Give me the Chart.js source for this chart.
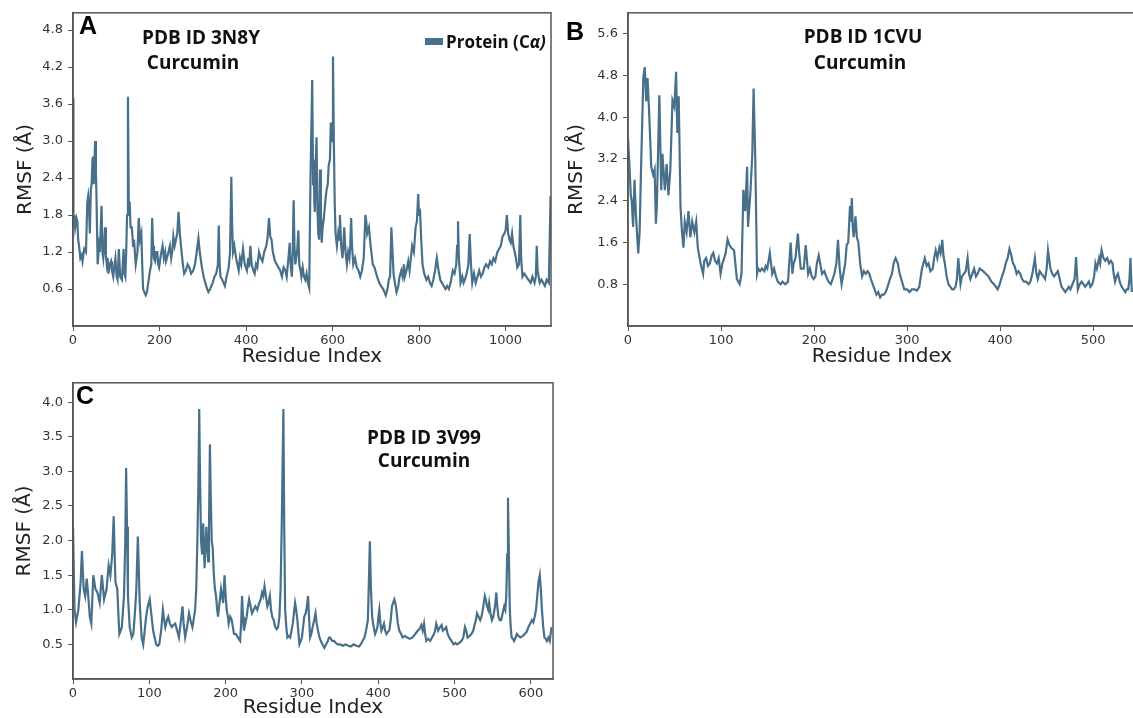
<!DOCTYPE html>
<html>
<head>
<meta charset="utf-8">
<script src="https://cdn.jsdelivr.net/npm/chart.js@4"></script>
<style>
  body { margin: 0; width: 1133px; height: 718px; overflow: hidden; background: #fff; position: relative; }
  canvas { position: absolute; }
  .letra { position: absolute; font-family: "Liberation Sans", Arial, sans-serif; font-weight: bold; font-size: 25px; line-height: 1; color: #000; transform: translateY(-50%); }
  .nota { position: absolute; font-family: "Open Sans", sans-serif; font-weight: 700; font-size: 19px; line-height: 1; color: #111; white-space: nowrap; transform: translate(-50%, -50%); }
  .legenda { position: absolute; left: 425px; top: 30px; font-family: "Open Sans", sans-serif; font-weight: 700; font-size: 17px; color: #111; white-space: nowrap; display: flex; align-items: center; }
  .legenda span.cor { display: inline-block; width: 18px; height: 7px; background: #48708a; margin-right: 3px; }
</style>
</head>
<body>
  <canvas id="painel-a" width="560" height="370" style="left:0;top:0"></canvas>
  <canvas id="painel-b" width="580" height="370" style="left:560px;top:0"></canvas>
  <canvas id="painel-c" width="560" height="350" style="left:0;top:370px"></canvas>

  <div class="letra" style="left:79px;top:25px">A</div>
  <div class="letra" style="left:566px;top:31px">B</div>
  <div class="letra" style="left:76px;top:395px">C</div>

  <div class="nota" style="left:201px;top:37px">PDB ID 3N8Y</div>
  <div class="nota" style="left:193px;top:62px">Curcumin</div>
  <div class="nota" style="left:863px;top:36px">PDB ID 1CVU</div>
  <div class="nota" style="left:860px;top:62px">Curcumin</div>
  <div class="nota" style="left:424px;top:437px">PDB ID 3V99</div>
  <div class="nota" style="left:424px;top:460px">Curcumin</div>

  <div class="legenda"><span class="cor"></span>Protein (C<i>α)</i></div>

<script>
// RMSF por resíduo: [resíduo, RMSF em Å]
const rmsf3N8Y = [
  [0,3.7],[1,1.6],[3,1.8],[5,1.6],[8,1.75],[10,1.7],[12,1.4],[14,1.3],[17,1.1],[20,1.15],[22,1.05],[26,1.25],[30,1.2],[33,2.0],[35,2.1],[37,1.9],[39,1.5],[41,2.2],[43,2.3],[45,2.7],[46,2.75],[48,2.3],[49,2.5],[51,3.0],[53,2.5],[54,2.2],[57,1.0],[60,1.3],[62,1.2],[66,1.95],[68,1.2],[70,1.1],[72,1.3],[74,1.6],[76,1.15],[78,1.0],[80,1.1],[82,0.85],[85,1.0],[88,1.05],[90,0.9],[93,0.8],[96,1.0],[98,1.1],[101,0.8],[103,0.75],[106,1.25],[109,0.8],[113,0.75],[115,1.0],[117,1.25],[119,0.85],[121,0.8],[123,1.2],[125,1.8],[127,3.72],[129,2.0],[131,2.0],[133,1.6],[136,1.6],[139,1.3],[141,1.4],[143,1.2],[145,1.0],[149,1.2],[152,1.75],[155,1.4],[158,1.5],[160,1.0],[162,0.6],[165,0.55],[168,0.5],[171,0.55],[174,0.7],[178,0.9],[181,1.0],[183,1.75],[185,1.3],[187,1.1],[190,1.05],[192,1.2],[195,1.2],[197,1.0],[199,0.95],[203,1.15],[207,1.3],[210,1.1],[213,1.2],[215,1.05],[219,1.15],[224,1.3],[227,1.1],[230,1.25],[232,1.45],[235,1.3],[238,1.4],[241,1.5],[244,1.85],[247,1.5],[251,1.2],[254,1.0],[257,0.85],[261,0.9],[265,1.0],[269,0.95],[273,0.85],[278,0.9],[282,1.0],[286,1.2],[290,1.42],[293,1.2],[298,0.95],[302,0.8],[306,0.7],[310,0.6],[313,0.55],[317,0.6],[323,0.7],[327,0.8],[331,0.85],[335,1.0],[337,1.63],[339,1.0],[341,0.8],[345,0.75],[348,0.7],[351,0.65],[355,0.8],[360,0.95],[363,1.2],[366,2.42],[368,1.6],[370,1.2],[373,1.3],[377,1.1],[380,1.0],[383,0.9],[386,1.1],[389,1.0],[393,1.25],[397,1.0],[402,0.9],[405,1.1],[407,0.95],[410,1.3],[413,1.0],[417,0.9],[420,0.85],[423,1.0],[426,0.95],[430,1.2],[434,1.1],[438,1.05],[442,1.2],[447,1.3],[450,1.45],[453,1.75],[456,1.45],[459,1.4],[462,1.2],[467,1.05],[471,1.0],[475,0.95],[479,0.9],[483,0.8],[487,0.95],[491,0.9],[494,0.8],[498,1.1],[501,1.35],[503,1.0],[506,0.8],[508,1.2],[510,2.04],[512,1.3],[514,1.0],[518,1.2],[521,1.55],[523,1.0],[526,0.9],[528,0.8],[531,0.95],[534,0.8],[537,0.75],[540,0.85],[543,0.7],[546,0.62],[549,2.4],[553,3.99],[555,2.3],[556,2.7],[558,2.0],[559,1.85],[561,2.6],[563,3.06],[565,1.9],[567,1.5],[569,1.4],[571,2.54],[573,1.9],[575,1.35],[577,1.6],[580,1.75],[583,2.0],[586,2.2],[589,2.3],[591,2.6],[594,2.7],[596,3.3],[599,3.0],[601,4.37],[603,3.0],[605,2.0],[607,1.5],[610,1.3],[613,1.5],[615,1.4],[617,1.8],[620,1.3],[623,1.1],[625,1.3],[627,1.6],[630,1.2],[633,1.0],[636,1.2],[639,1.1],[641,1.3],[643,1.75],[645,1.3],[648,1.0],[652,1.1],[656,0.95],[660,0.9],[664,0.8],[668,0.9],[672,1.1],[676,1.8],[678,1.7],[680,1.5],[684,1.6],[688,1.3],[693,1.0],[697,0.95],[703,0.8],[708,0.7],[712,0.65],[717,0.6],[720,0.55],[723,0.5],[727,0.6],[730,0.75],[733,0.8],[736,1.6],[738,1.3],[741,0.85],[744,0.7],[748,0.55],[752,0.65],[755,0.8],[759,0.9],[762,0.8],[765,1.0],[767,0.8],[771,0.9],[775,1.05],[778,0.9],[781,1.1],[784,1.3],[788,1.2],[792,1.6],[795,1.7],[798,2.14],[800,1.8],[802,1.9],[805,1.4],[808,1.0],[812,0.85],[817,0.75],[821,0.8],[825,0.7],[829,0.65],[833,0.75],[837,0.9],[841,1.1],[845,0.9],[849,0.75],[853,0.7],[857,0.65],[861,0.6],[865,0.65],[869,0.6],[873,0.7],[878,0.9],[882,0.85],[886,1.0],[888,1.3],[890,1.7],[892,1.1],[896,0.7],[900,0.8],[903,0.7],[906,0.75],[910,0.85],[914,1.0],[917,1.49],[920,1.0],[923,0.7],[927,0.85],[931,0.7],[935,0.8],[939,0.9],[943,0.8],[947,0.85],[951,0.95],[955,1.0],[960,0.95],[964,1.05],[968,1.0],[972,1.1],[976,1.05],[981,1.2],[985,1.25],[989,1.3],[993,1.45],[997,1.5],[1000,1.55],[1003,1.8],[1006,1.5],[1009,1.4],[1012,1.35],[1015,1.5],[1018,1.3],[1021,1.2],[1024,1.1],[1027,0.95],[1031,1.0],[1034,1.8],[1036,1.1],[1039,0.8],[1043,0.85],[1048,0.8],[1053,0.75],[1058,0.7],[1062,0.8],[1067,0.7],[1070,0.8],[1072,1.3],[1074,0.9],[1079,0.7],[1083,0.75],[1087,0.7],[1091,0.65],[1095,0.75],[1100,0.7],[1104,2.11]
];

const rmsf1CVU = [
  [0,3.6],[1.5,3.1],[3,2.5],[4,2.4],[5.5,1.9],[7,2.8],[8.6,2.1],[11,1.39],[12.5,1.8],[14,3.0],[16.5,4.77],[18,4.96],[19.6,4.3],[21,4.75],[22.7,4.1],[25,3.05],[27,2.9],[28.6,3.0],[30,1.96],[31,2.3],[33.7,4.42],[35.7,2.6],[37,3.3],[39.6,2.6],[41.5,3.1],[43.5,2.5],[45.5,3.0],[47.8,4.32],[49.8,4.2],[51.7,4.87],[53,3.7],[54.5,4.4],[56.4,2.3],[58,1.8],[59.6,1.5],[61,2.0],[63,1.8],[65,2.2],[67,1.7],[69,2.0],[71.3,1.8],[73.3,2.0],[75,1.5],[78,1.2],[80.7,1.0],[82,1.25],[84,1.3],[86,1.15],[88,1.2],[90,1.35],[91.7,1.4],[93.5,1.25],[95.6,1.2],[97.5,1.3],[99.5,1.0],[101.5,1.2],[103.4,1.3],[105,1.4],[107,1.66],[109,1.55],[111,1.5],[114,1.45],[117,0.9],[120,0.8],[122,1.0],[124,2.61],[126,2.2],[128,3.05],[129,1.9],[131.7,2.6],[133.6,3.3],[135,4.55],[136.8,3.2],[138.7,1.0],[140,1.1],[142,1.05],[144,1.1],[146.6,1.05],[148,1.15],[149.7,1.1],[152.4,1.4],[155,1.0],[157,1.1],[159,0.95],[161,0.85],[164,0.8],[166,0.85],[169,0.8],[172,0.85],[174.8,1.6],[176.7,1.0],[178,1.2],[180,1.3],[182.6,1.77],[184,1.4],[185.7,1.1],[188.9,1.1],[191,1.55],[193.6,1.0],[195.5,1.1],[197.5,0.95],[199.5,0.9],[201.4,0.95],[203,1.2],[205,1.35],[206.5,1.2],[208.5,1.0],[211,1.05],[213,0.95],[215.5,0.85],[218,0.8],[220,0.9],[221.8,1.0],[224,1.2],[225.7,1.65],[227.5,1.1],[229.6,0.8],[231.5,1.0],[233.5,1.2],[235,1.55],[236.7,1.6],[238.6,2.3],[239.5,2.0],[240.6,2.45],[241.5,1.9],[242.6,1.7],[244.5,2.1],[246,1.7],[247.6,1.6],[249.5,1.2],[251.6,0.95],[253.5,1.05],[255.5,1.0],[257.5,1.05],[259.4,1.0],[261,0.9],[263,0.8],[265,0.7],[267,0.6],[269,0.65],[271,0.55],[273,0.6],[275,0.6],[277,0.65],[279,0.75],[281.5,0.9],[283.7,1.0],[285.5,1.2],[287.6,1.3],[290,1.2],[292,1.0],[294.5,0.85],[297,0.7],[300,0.7],[302.5,0.65],[305,0.7],[308,0.7],[310.5,0.68],[313,0.75],[316,1.1],[319,1.3],[321,1.15],[323,1.2],[325,1.05],[327.6,1.1],[329,1.3],[330.7,1.45],[332.5,1.3],[334.6,1.5],[336,1.4],[337.8,1.65],[339,1.35],[340.5,1.2],[342.5,0.95],[344.4,0.8],[346.5,0.75],[348.4,0.7],[350,0.7],[352,0.75],[353.5,0.9],[355,1.3],[357.4,0.8],[359,0.95],[361,1.0],[363,1.05],[365,1.3],[366.5,1.0],[368,0.9],[370,1.0],[372,1.1],[374,0.95],[375.8,1.0],[378,1.1],[381.7,1.05],[384.5,1.0],[387.5,0.95],[390.5,0.85],[393.4,0.8],[395.5,0.75],[397.3,0.7],[399.5,0.8],[402,0.95],[404,1.05],[406,1.2],[408,1.3],[410,1.48],[412,1.35],[413.8,1.2],[415.5,1.15],[417.7,1.0],[419.5,1.05],[421.6,1.0],[423.5,0.9],[425.5,0.85],[428,0.85],[430.6,0.8],[432.5,0.85],[434.6,1.0],[437.3,1.3],[439,1.0],[440.4,0.9],[442.5,1.05],[444.4,1.0],[446.5,0.95],[448.3,0.9],[450,1.1],[451.4,1.45],[452.5,1.3],[454,1.1],[456,1.0],[458,0.95],[460,1.0],[462,1.05],[464,0.9],[466,0.75],[468,0.7],[470,0.65],[472,0.7],[473.7,0.75],[475.5,0.7],[477.7,0.8],[480,0.9],[481.6,1.32],[483.5,0.7],[485.5,0.8],[487.5,0.85],[489.5,0.8],[491.4,0.75],[493.5,0.8],[495.3,0.85],[497,0.75],[499,0.8],[501,0.95],[502.4,1.2],[504,1.1],[506.3,1.3],[507.5,1.2],[509,1.45],[511,1.3],[513,1.25],[515,1.3],[517,1.2],[519,1.25],[520.8,1.2],[522,1.0],[523.5,0.85],[525,0.95],[526.6,1.0],[528.5,0.85],[530.6,0.75],[532.5,0.7],[534.5,0.65],[536,0.7],[537.6,0.7],[539,0.9],[540,1.3],[541.5,0.65]
];

const rmsf3V99 = [
  [0,2.2],[2,1.0],[4,0.82],[7,1.0],[10,1.4],[11.7,1.85],[14,1.3],[16,1.2],[18,1.45],[20,1.2],[22,0.9],[24,0.8],[26.6,1.5],[29.4,1.3],[32,1.25],[35,1.1],[37.8,1.5],[40.7,1.15],[44,1.3],[46.7,1.64],[49,1.5],[51.4,1.8],[53.3,2.35],[55.6,1.4],[58,1.3],[60.7,0.65],[62.5,0.7],[64,0.75],[66.8,1.2],[68.5,2.0],[69.6,3.05],[70.8,2.2],[72,1.2],[74.3,0.75],[77,0.6],[79,0.65],[80.8,0.9],[83,1.3],[85,2.06],[86.2,1.6],[87.4,1.1],[90,0.6],[92,0.5],[94,0.7],[95.8,0.9],[98,1.05],[100.5,1.15],[103,0.9],[105,0.7],[107,0.6],[109,0.5],[111,0.48],[113,0.5],[115.5,0.7],[117.8,1.0],[119.5,0.85],[121,0.75],[123,0.85],[124.8,0.9],[127,0.8],[129.4,0.75],[131.5,0.78],[134,0.8],[136.5,0.7],[138.8,0.6],[141,0.8],[143.5,1.05],[145,0.8],[147,0.6],[149.5,0.75],[152,0.95],[154,0.85],[156.5,0.75],[158,0.85],[160,1.0],[161.5,1.3],[163,2.0],[164.3,2.8],[165.4,3.9],[166.6,2.8],[167.8,2.0],[169.2,1.8],[170.6,2.25],[172.4,1.6],[174.8,2.2],[176,1.9],[177,1.7],[178.2,2.2],[179.4,3.39],[180.6,2.6],[181.8,2.0],[183,1.9],[184.6,1.5],[186,1.3],[187.4,1.2],[189,1.0],[190,0.9],[192,1.1],[194,1.3],[196.7,1.1],[198.6,1.5],[200,1.2],[201.4,1.0],[203,0.9],[204,0.8],[206,0.9],[208,0.85],[209.5,0.75],[211,0.65],[213.5,0.65],[216,0.6],[219,0.55],[220.3,0.8],[221.5,1.2],[222.8,0.9],[224,0.7],[225.8,0.8],[227.6,0.9],[229.2,1.05],[230.8,1.15],[232.7,1.05],[234.6,0.95],[236.8,1.0],[239,1.05],[241.5,1.0],[244,1.1],[246,1.15],[247.7,1.25],[249.4,1.2],[251,1.34],[252.8,1.2],[254.7,1.05],[256.3,1.1],[258,1.2],[259.5,1.0],[261,0.9],[263,0.85],[265,0.75],[267,0.72],[268.7,0.75],[270.5,0.9],[272,1.3],[273.5,2.2],[275.7,3.9],[276.8,2.2],[278,1.0],[279.5,0.75],[281,0.6],[282.8,0.62],[284.6,0.6],[286.3,0.7],[288,0.8],[289.5,0.95],[291,1.1],[292.5,1.0],[294,0.85],[295.5,0.65],[296.7,0.5],[298.5,0.55],[300,0.6],[301.5,0.75],[303,0.9],[305,0.95],[306.5,1.05],[308,1.2],[309.3,0.9],[310.7,0.6],[312.3,0.65],[314,0.75],[316,0.85],[317.8,0.95],[319.4,0.8],[321,0.7],[323,0.6],[324.8,0.55],[327,0.5],[329.4,0.45],[331.5,0.5],[334,0.55],[335.5,0.6],[337,0.6],[339.5,0.55],[342,0.55],[344.5,0.52],[346.7,0.5],[350,0.5],[353.7,0.48],[357,0.5],[360.7,0.48],[364,0.47],[368,0.5],[371,0.48],[374.8,0.47],[377,0.5],[379.4,0.55],[382,0.6],[384,0.7],[386.4,0.85],[387.7,1.4],[389,1.99],[390.4,1.3],[392,0.9],[394,0.75],[395.8,0.65],[397.5,0.7],[399,0.75],[400.2,0.9],[401.4,1.0],[402.8,0.8],[404.2,0.7],[406,0.75],[407.5,0.8],[409,0.7],[410.7,0.65],[412.5,0.68],[414.5,0.7],[416.3,0.85],[418,1.05],[419.5,1.1],[421,1.15],[422.4,1.1],[423.8,1.0],[425.7,0.8],[427.6,0.7],[430,0.65],[432,0.6],[435,0.62],[437.9,0.6],[441.5,0.58],[444.9,0.6],[448.5,0.65],[451.9,0.7],[454,0.72],[456.5,0.78],[458.3,0.7],[460,0.8],[461.5,0.65],[463,0.55],[465.5,0.58],[468,0.55],[470.5,0.6],[473,0.65],[474.5,0.7],[476,0.8],[478.5,0.7],[481,0.75],[483,0.78],[484.6,0.7],[487,0.72],[489,0.75],[491,0.65],[493,0.6],[496,0.55],[498.6,0.5],[501,0.52],[503,0.5],[506,0.52],[509,0.55],[511.5,0.6],[513.6,0.75],[515.3,0.7],[517,0.6],[519.5,0.62],[522,0.65],[524.5,0.7],[526.6,0.8],[528,0.85],[529.4,0.95],[531.5,0.9],[533.6,0.85],[535.3,0.9],[537,1.0],[538.3,1.1],[539.7,1.2],[541,1.15],[542.5,1.05],[544,1.0],[545.3,1.1],[547,0.95],[549,0.85],[550.7,0.9],[552.3,1.0],[553.5,1.1],[554.7,1.25],[556,1.05],[557.5,0.9],[559.3,0.85],[561,0.85],[563,0.95],[565,1.05],[566.5,1.0],[567.8,1.2],[569,1.8],[570,2.62],[571.2,1.8],[572.4,1.0],[573.6,0.75],[574.8,0.6],[576.5,0.58],[578,0.55],[580,0.6],[581.8,0.65],[584,0.62],[586.4,0.6],[589,0.62],[592,0.65],[594.5,0.68],[596.7,0.75],[599,0.8],[601.4,0.85],[603.2,0.82],[605,0.9],[606.7,1.0],[608.4,1.2],[610,1.4],[611.7,1.5],[613,1.3],[614.5,1.0],[616.2,0.75],[617.8,0.6],[619.5,0.58],[621,0.55],[623,0.6],[624.8,0.55],[627,0.75]
];

// marcas dos eixos
const ticksXA = [0, 200, 400, 600, 800, 1000];
const ticksYA = [0.6, 1.2, 1.8, 2.4, 3.0, 3.6, 4.2, 4.8];
const ticksXB = [0, 100, 200, 300, 400, 500];
const ticksYB = [0.8, 1.6, 2.4, 3.2, 4.0, 4.8, 5.6];
const ticksXC = [0, 100, 200, 300, 400, 500, 600];
const ticksYC = [0.5, 1.0, 1.5, 2.0, 2.5, 3.0, 3.5, 4.0];

const COR_LINHA = "#48708a";
const COR_EIXO = "#555";

// contorno completo da área do gráfico (topo e direita também)
const moldura = {
  id: "moldura",
  afterDraw(chart) {
    const { ctx, chartArea: a } = chart;
    ctx.save();
    ctx.strokeStyle = COR_EIXO;
    ctx.lineWidth = 1.5;
    ctx.strokeRect(a.left, a.top, a.right - a.left, a.bottom - a.top);
    ctx.restore();
  }
};

function desenharPainel(id, dados, cfg) {
  const ctx = document.getElementById(id).getContext("2d");
  const fonteTick = { family: "DejaVu Sans", size: 13 };
  const fonteTitulo = { family: "DejaVu Sans", size: 20 };

  return new Chart(ctx, {
    type: "line",
    data: {
      datasets: [{
        data: dados.map(([x, y]) => ({ x, y })),
        borderColor: COR_LINHA,
        borderWidth: 2.2,
        pointRadius: 0,
        tension: 0,
        fill: false
      }]
    },
    options: {
      responsive: false,
      animation: false,
      layout: { padding: cfg.padding },
      plugins: {
        legend: { display: false },
        tooltip: { enabled: false }
      },
      scales: {
        x: {
          type: "linear",
          min: 0,
          max: cfg.xMax,
          afterBuildTicks: s => { s.ticks = cfg.ticksX.map(v => ({ value: v })); },
          afterFit: s => { s.height = cfg.alturaX; },
          ticks: { font: fonteTick, color: "#333", padding: 2, autoSkip: false, maxRotation: 0, callback: v => String(v) },
          grid: { drawOnChartArea: false, tickLength: 5, color: COR_EIXO },
          border: { color: COR_EIXO, width: 1.5 },
          title: { display: true, text: "Residue Index", font: fonteTitulo, color: "#222", padding: { top: 0, bottom: cfg.padTituloX } }
        },
        y: {
          min: 0,
          max: cfg.yMax,
          afterBuildTicks: s => { s.ticks = cfg.ticksY.map(v => ({ value: v })); },
          afterFit: s => { s.width = cfg.larguraY; },
          ticks: { font: fonteTick, color: "#333", padding: 5, autoSkip: false, callback: v => v.toFixed(1) },
          grid: { drawOnChartArea: false, tickLength: 5, color: COR_EIXO },
          border: { color: COR_EIXO, width: 1.5 },
          title: { display: true, text: "RMSF (Å)", font: fonteTitulo, color: "#222", padding: { top: cfg.padTituloY, bottom: 0 } }
        }
      }
    },
    plugins: [moldura]
  });
}

desenharPainel("painel-a", rmsf3N8Y, {
  xMax: 1105, yMax: 5.08, ticksX: ticksXA, ticksY: ticksYA,
  padding: { left: 0, top: 11, right: 9, bottom: 0 },
  larguraY: 73, alturaX: 44, padTituloX: 1, padTituloY: 14
});

desenharPainel("painel-b", rmsf1CVU, {
  xMax: 546, yMax: 6.0, ticksX: ticksXB, ticksY: ticksYB,
  padding: { left: 0, top: 11, right: 4, bottom: 0 },
  larguraY: 68, alturaX: 44, padTituloX: 1, padTituloY: 5
});

desenharPainel("painel-c", rmsf3V99, {
  xMax: 629, yMax: 4.28, ticksX: ticksXC, ticksY: ticksYC,
  padding: { left: 0, top: 3, right: 7, bottom: 0 },
  larguraY: 73, alturaX: 41, padTituloX: 0, padTituloY: 13
});
</script>
</body>
</html>
